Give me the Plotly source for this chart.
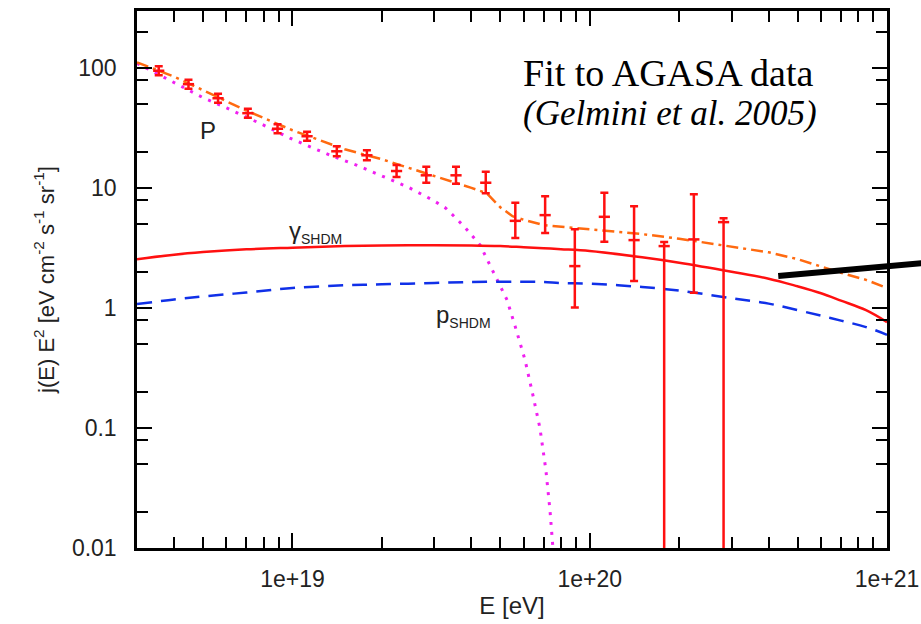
import math
import plotly.graph_objects as go

# ---- AGASA data points (E in eV, j(E)E^2 in eV cm^-2 s^-1 sr^-1)
E_data = [3.55e18, 4.47e18, 5.62e18, 7.08e18, 8.91e18, 1.12e19, 1.41e19, 1.78e19,
          2.24e19, 2.82e19, 3.55e19, 4.47e19, 5.62e19, 7.08e19, 8.91e19, 1.12e20,
          1.41e20, 1.78e20, 2.24e20, 2.82e20]
J_data = [95.3, 73.6, 56.2, 42.2, 31.3, 27.1, 20.3, 18.8, 13.9, 12.8, 12.8, 11.1,
          5.34, 5.96, 2.24, 5.77, 3.69, 3.29, 3.74, 5.21]
J_up = [103.9, 80.2, 61.3, 46.0, 34.1, 29.5, 22.4, 20.7, 15.6, 15.1, 15.1, 13.7,
        7.55, 8.58, 4.54, 9.18, 7.08, 3.55, 8.91, 5.62]
J_lo = [87.4, 67.5, 51.6, 38.7, 28.7, 24.9, 18.5, 17.1, 12.4, 11.1, 10.9, 9.07,
        3.85, 4.22, 1.01, 3.57, 1.68, 1e-4, 1.34, 1e-4]

# ---- model curves
E_grid = [3e18, 4e18, 5e18, 7e18, 1e19, 1.5e19, 2e19, 3e19, 4e19, 5e19, 6e19, 7e19,
          8e19, 1e20, 1.5e20, 2e20, 3e20, 4e20, 5e20, 6e20, 7e20, 8.5e20, 1e21]
J_gamma = [2.56, 2.79, 2.93, 3.09, 3.19, 3.29, 3.33, 3.35, 3.33, 3.29, 3.22, 3.16,
           3.10, 2.99, 2.65, 2.39, 2.01, 1.76, 1.52, 1.33, 1.155, 0.96, 0.764]
J_pshdm = [1.08, 1.18, 1.25, 1.35, 1.47, 1.55, 1.58, 1.62, 1.65, 1.66, 1.66, 1.65,
           1.62, 1.60, 1.50, 1.40, 1.21, 1.09, 0.962, 0.866, 0.787, 0.695, 0.60]

E_total = [3e18, 4e18, 5e18, 7e18, 1e19, 1.5e19, 2e19, 3e19, 4e19, 4.5e19, 5e19, 5.5e19,
           6e19, 7e19, 8e19, 1e20, 1.5e20, 2e20, 3e20, 4e20, 5e20, 6e20, 7e20, 8.5e20, 1e21]
J_total = [112, 85.0, 65.6, 44.3, 30.4, 21.1, 17.4, 12.7, 10.06, 9.08, 6.94, 5.84,
           5.45, 4.92, 4.77, 4.55, 4.14, 3.79, 3.27, 2.92, 2.56, 2.22, 1.97, 1.72, 1.47]

E_prot = [3.0e18, 3.32e18, 4.09e18, 4.97e18, 6.03e18, 7.89e18, 9.81e18, 1.34e19, 1.65e19,
          2.02e19, 2.45e19, 2.97e19, 3.28e19, 3.52e19, 3.80e19, 4.28e19, 4.55e19, 4.88e19,
          5.27e19, 5.61e19, 6.06e19, 6.44e19, 6.80e19, 7.12e19, 7.35e19, 7.52e19, 7.6e19]
J_prot = [110, 96.2, 73.6, 57.3, 46.4, 34.1, 26.1, 18.8, 15.5, 12.6, 10.2, 7.94, 6.81,
          5.73, 4.73, 3.35, 2.46, 1.74, 1.17, 0.708, 0.369, 0.188, 0.1, 0.0447, 0.0207,
          0.01, 0.008]

x_tickvals = [1e19, 1e20, 1e21]
x_ticktext = ["1e+19", "1e+20", "1e+21"]
x_minor = [4e18, 5e18, 6e18, 7e18, 8e18, 9e18,
           2e19, 3e19, 4e19, 5e19, 6e19, 7e19, 8e19, 9e19,
           2e20, 3e20, 4e20, 5e20, 6e20, 7e20, 8e20, 9e20]
y_tickvals = [0.01, 0.1, 1, 10, 100]
y_ticktext = ["0.01", "0.1", "1", "10", "100"]
y_minor = [0.02, 0.05, 0.08, 0.2, 0.5, 0.8, 2, 5, 8, 20, 50, 80, 200]

RED = "#ff1010"
ORANGE = "#ff6a10"
BLUE = "#1030e8"
MAGENTA = "#f020f0"

fig = go.Figure()

fig.add_trace(go.Scatter(x=E_prot, y=J_prot, mode="lines",
                         line=dict(color=MAGENTA, width=3, dash="3px,7px")))
fig.add_trace(go.Scatter(x=E_grid, y=J_pshdm, mode="lines", line_shape="spline",
                         line=dict(color=BLUE, width=2.5, dash="15px,9px")))
fig.add_trace(go.Scatter(x=E_grid, y=J_gamma, mode="lines", line_shape="spline",
                         line=dict(color=RED, width=2.5)))
fig.add_trace(go.Scatter(x=E_total, y=J_total, mode="lines",
                         line=dict(color=ORANGE, width=2.5, dash="12px,5px,3px,5px")))

fig.add_trace(go.Scatter(
    x=E_data, y=J_data, mode="markers",
    marker=dict(symbol="line-ew", size=8, line=dict(color=RED, width=2.5), color=RED),
    error_y=dict(type="data", symmetric=False,
                 array=[u - j for u, j in zip(J_up, J_data)],
                 arrayminus=[j - l for j, l in zip(J_data, J_lo)],
                 color=RED, thickness=2.5, width=4),
    cliponaxis=True))

sans = "Liberation Sans, Arial, sans-serif"
tick_font = dict(family=sans, size=23, color="#222222")

fig.update_xaxes(type="log", range=[math.log10(3e18), 21], automargin=False,
                 tickmode="array", tickvals=x_tickvals, ticktext=x_ticktext,
                 ticks="inside", ticklen=15, tickwidth=2, tickcolor="black",
                 ticklabelstandoff=9,
                 showline=True, linewidth=2.5, linecolor="black", mirror="ticks",
                 showgrid=False, zeroline=False, tickfont=tick_font,
                 minor=dict(tickmode="array", tickvals=x_minor, ticks="inside",
                            ticklen=11, tickwidth=2, tickcolor="black", showgrid=False),
                 title=dict(text="E [eV]", font=dict(family=sans, size=24, color="#222222"),
                            standoff=6))
fig.update_yaxes(type="log", range=[-2, math.log10(300)], automargin=False,
                 tickmode="array", tickvals=y_tickvals, ticktext=y_ticktext,
                 ticks="inside", ticklen=15, tickwidth=2, tickcolor="black",
                 ticklabelstandoff=13,
                 showline=True, linewidth=2.5, linecolor="black", mirror="ticks",
                 showgrid=False, zeroline=False, tickfont=tick_font,
                 minor=dict(tickmode="array", tickvals=y_minor, ticks="inside",
                            ticklen=11, tickwidth=2, tickcolor="black", showgrid=False),
                 title=dict(text="j(E) E<sup>2</sup> [eV cm<sup>-2</sup> s<sup>-1</sup> sr<sup>-1</sup>]",
                            font=dict(family=sans, size=22, color="#222222"), standoff=12))

label_font = dict(family=sans, size=24, color="#222222")
sub = "<span style='font-size:14px'>SHDM</span>"
fig.add_annotation(x=math.log10(5.2e18), y=math.log10(30.4), text="P", showarrow=False,
                   font=label_font)
fig.add_annotation(x=math.log10(9.6e18), y=math.log10(4.3), text="γ<sub>" + sub + "</sub>",
                   showarrow=False, xanchor="left", font=label_font)
fig.add_annotation(x=math.log10(3.0e19), y=math.log10(0.86), text="p<sub>" + sub + "</sub>",
                   showarrow=False, xanchor="left", font=label_font)

serif = "Liberation Serif, Times New Roman, serif"
fig.add_annotation(xref="paper", yref="paper", x=0.512, y=0.884, xanchor="left",
                   yanchor="middle", text="Fit to AGASA data", showarrow=False,
                   font=dict(family=serif, size=38, color="black"))
fig.add_annotation(xref="paper", yref="paper", x=0.512, y=0.810, xanchor="left",
                   yanchor="middle", text="<i>(Gelmini et al. 2005)</i>", showarrow=False,
                   font=dict(family=serif, size=35, color="black"))

# black pointer line extending beyond the frame
fig.add_shape(type="line", xref="paper", yref="paper", x0=0.855, y0=0.5065,
              x1=1.06, y1=0.532, line=dict(color="black", width=6))

fig.update_layout(width=921, height=624,
                  margin=dict(l=137, r=34, t=11, b=76, autoexpand=False),
                  paper_bgcolor="white", plot_bgcolor="white", showlegend=False)

fig.write_html("out.html", config={"displayModeBar": False},
               post_script="document.body.style.margin='0px';"
                           "document.body.style.overflow='hidden';")
